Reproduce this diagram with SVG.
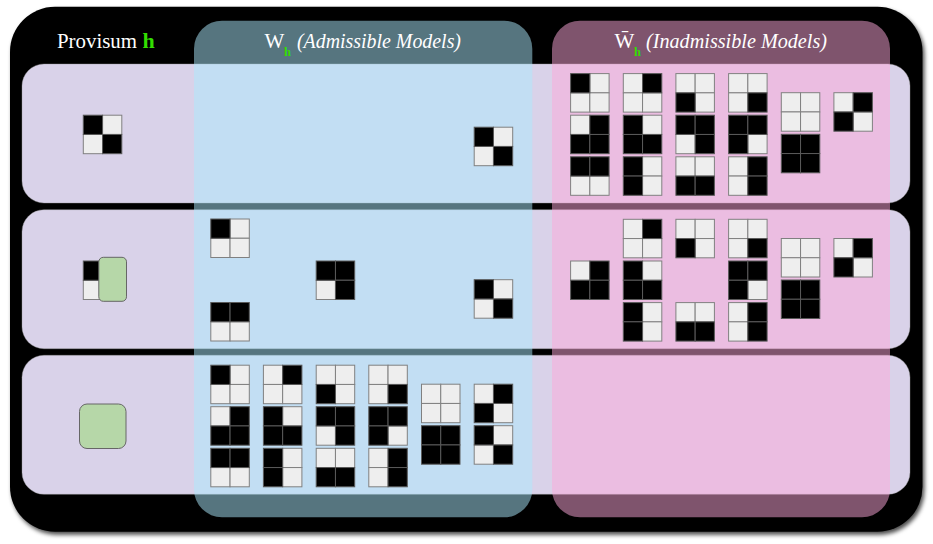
<svg xmlns="http://www.w3.org/2000/svg" width="933" height="544" viewBox="0 0 933 544">
<style>
.b{fill:#000;stroke:#5a5a5a;stroke-width:1}
.w{fill:#eee;stroke:#808080;stroke-width:1}
.row{fill:#d9d2e9;stroke:#999;stroke-width:.4}
.t{font-family:"Liberation Serif","DejaVu Serif",serif;font-size:21px;fill:#fff}
.i{font-style:italic}
.g{font-family:"Liberation Serif","DejaVu Serif",serif;font-weight:bold;fill:#33dd00}
.p{fill:#b6d7a8;stroke:#666;stroke-width:1}
</style>
<defs>
<filter id="sh" x="-5%" y="-5%" width="110%" height="110%"><feDropShadow dx="2" dy="3" stdDeviation="2" flood-color="#000" flood-opacity=".7"/></filter>
<rect id="c1" class="b" width="19.25" height="19.25"/>
<rect id="c0" class="w" width="19.25" height="19.25"/>
<g id="p0000"><use href="#c0"/><use href="#c0" x="19.25"/><use href="#c0" y="19.25"/><use href="#c0" x="19.25" y="19.25"/></g>
<g id="p1111"><use href="#c1"/><use href="#c1" x="19.25"/><use href="#c1" y="19.25"/><use href="#c1" x="19.25" y="19.25"/></g>
<g id="p1000"><use href="#c0" x="19.25"/><use href="#c0" y="19.25"/><use href="#c0" x="19.25" y="19.25"/><use href="#c1"/></g>
<g id="p0100"><use href="#c0"/><use href="#c0" y="19.25"/><use href="#c0" x="19.25" y="19.25"/><use href="#c1" x="19.25"/></g>
<g id="p0010"><use href="#c0"/><use href="#c0" x="19.25"/><use href="#c0" x="19.25" y="19.25"/><use href="#c1" y="19.25"/></g>
<g id="p0001"><use href="#c0"/><use href="#c0" x="19.25"/><use href="#c0" y="19.25"/><use href="#c1" x="19.25" y="19.25"/></g>
<g id="p0111"><use href="#c0"/><use href="#c1" x="19.25"/><use href="#c1" y="19.25"/><use href="#c1" x="19.25" y="19.25"/></g>
<g id="p1011"><use href="#c0" x="19.25"/><use href="#c1"/><use href="#c1" y="19.25"/><use href="#c1" x="19.25" y="19.25"/></g>
<g id="p1101"><use href="#c0" y="19.25"/><use href="#c1"/><use href="#c1" x="19.25"/><use href="#c1" x="19.25" y="19.25"/></g>
<g id="p1110"><use href="#c0" x="19.25" y="19.25"/><use href="#c1"/><use href="#c1" x="19.25"/><use href="#c1" y="19.25"/></g>
<g id="p1100"><use href="#c0" y="19.25"/><use href="#c0" x="19.25" y="19.25"/><use href="#c1"/><use href="#c1" x="19.25"/></g>
<g id="p0011"><use href="#c0"/><use href="#c0" x="19.25"/><use href="#c1" y="19.25"/><use href="#c1" x="19.25" y="19.25"/></g>
<g id="p1010"><use href="#c0" x="19.25"/><use href="#c0" x="19.25" y="19.25"/><use href="#c1"/><use href="#c1" y="19.25"/></g>
<g id="p0101"><use href="#c0"/><use href="#c0" y="19.25"/><use href="#c1" x="19.25"/><use href="#c1" x="19.25" y="19.25"/></g>
<g id="p1001"><use href="#c0" x="19.25"/><use href="#c0" y="19.25"/><use href="#c1"/><use href="#c1" x="19.25" y="19.25"/></g>
<g id="p0110"><use href="#c0"/><use href="#c0" x="19.25" y="19.25"/><use href="#c1" x="19.25"/><use href="#c1" y="19.25"/></g>
</defs>

<rect id="frame" x="10" y="6.7" width="912.5" height="525" rx="45" fill="#000" filter="url(#sh)"/>

<g id="rows">
<rect id="row1" class="row" x="22" y="64" width="888" height="139" rx="22"/>
<rect id="row2" class="row" x="22" y="209.7" width="888" height="139" rx="22"/>
<rect id="row3" class="row" x="22" y="355.3" width="888" height="139" rx="22"/>
</g>
<g id="columns">
<rect id="col-admissible" x="194" y="20.7" width="338.3" height="496.6" rx="28" fill="#abeafd" fill-opacity=".5"/>
<rect id="col-inadmissible" x="552" y="20.7" width="338" height="496.6" rx="28" fill="#fda8d9" fill-opacity=".5"/>
</g>

<g id="titles">
<text class="t" x="57" y="48" textLength="80" lengthAdjust="spacingAndGlyphs">Provisum</text>
<text class="g" x="142.5" y="48" font-size="22">h</text>
<text class="t" x="264.5" y="48">W</text>
<text class="g" x="284" y="55.5" font-size="12.5">h</text>
<text class="t i" x="297" y="48" textLength="164" lengthAdjust="spacingAndGlyphs">(Admissible Models)</text>
<text class="t" x="614.5" y="48">W̄</text>
<text class="g" x="634" y="55.5" font-size="12.5">h</text>
<text class="t i" x="646" y="48" textLength="181" lengthAdjust="spacingAndGlyphs">(Inadmissible Models)</text>
</g>

<g id="connectors"></g>

<g id="h-row1"><use href="#p1001" x="83.3" y="115.2"/></g>
<g id="h-row2"><use href="#p1000" x="83.3" y="261"/><rect class="p" x="98.8" y="257.3" width="27.7" height="44" rx="4.5"/></g>
<g id="h-row3"><rect class="p" x="79.5" y="404" width="46.5" height="44.5" rx="7.5"/></g>

<g id="w-row1"><use href="#p1001" x="474.2" y="127.2"/></g>

<g id="w-row2">
<use href="#p1000" x="210.8" y="219"/>
<use href="#p1100" x="210.8" y="302.5"/>
<use href="#p1101" x="316.2" y="261"/>
<use href="#p1001" x="474.2" y="279.7"/>
</g>

<g id="w-row3">
<use href="#p1000" x="210.8" y="365.2"/><use href="#p0111" x="210.8" y="406.7"/><use href="#p1100" x="210.8" y="448.3"/>
<use href="#p0100" x="263.4" y="365.2"/><use href="#p1011" x="263.4" y="406.7"/><use href="#p1010" x="263.4" y="448.3"/>
<use href="#p0010" x="316.2" y="365.2"/><use href="#p1101" x="316.2" y="406.7"/><use href="#p0011" x="316.2" y="448.3"/>
<use href="#p0001" x="368.8" y="365.2"/><use href="#p1110" x="368.8" y="406.7"/><use href="#p0101" x="368.8" y="448.3"/>
<use href="#p0000" x="421.5" y="384.2"/><use href="#p1111" x="421.5" y="425.7"/>
<use href="#p0110" x="474.2" y="384.2"/><use href="#p1001" x="474.2" y="425.7"/>
</g>

<g id="wbar-row1">
<use href="#p1000" x="570.6" y="73.6"/><use href="#p0111" x="570.6" y="115.2"/><use href="#p1100" x="570.6" y="156.8"/>
<use href="#p0100" x="623.3" y="73.6"/><use href="#p1011" x="623.3" y="115.2"/><use href="#p1010" x="623.3" y="156.8"/>
<use href="#p0010" x="675.9" y="73.6"/><use href="#p1101" x="675.9" y="115.2"/><use href="#p0011" x="675.9" y="156.8"/>
<use href="#p0001" x="728.6" y="73.6"/><use href="#p1110" x="728.6" y="115.2"/><use href="#p0101" x="728.6" y="156.8"/>
<use href="#p0000" x="781.3" y="92.7"/><use href="#p1111" x="781.3" y="134.3"/>
<use href="#p0110" x="833.9" y="92.7"/>
</g>

<g id="wbar-row2">
<use href="#p0111" x="570.6" y="261"/>
<use href="#p0100" x="623.3" y="219.3"/><use href="#p1011" x="623.3" y="261"/><use href="#p1010" x="623.3" y="302.6"/>
<use href="#p0010" x="675.9" y="219.3"/><use href="#p0011" x="675.9" y="302.6"/>
<use href="#p0001" x="728.6" y="219.3"/><use href="#p1110" x="728.6" y="261"/><use href="#p0101" x="728.6" y="302.6"/>
<use href="#p0000" x="781.3" y="238.5"/><use href="#p1111" x="781.3" y="280"/>
<use href="#p0110" x="833.9" y="238.5"/>
</g>
</svg>
